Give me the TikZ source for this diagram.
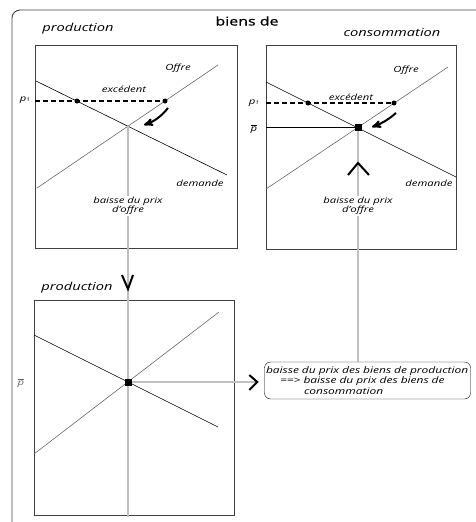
\documentclass[tikz,border=0pt]{standalone}
\usepackage{fontspec}
\setmainfont{Open Sans}[FakeStretch=1.33]
\newfontfamily\grasfont{Open Sans}[FakeStretch=1.33,FakeBold=1]
\usetikzlibrary{positioning}
\usetikzlibrary{arrows}

\begin{document}
\begin{tikzpicture}[x=1pt,y=-1pt,
    cadre/.style={draw=black!75,line width=0.9pt},%
    dem/.style={line width=0.6pt},%
    off/.style={draw=black!60,line width=0.6pt},%
    guide/.style={draw=black!25,line width=1.8pt},%
    prix/.style={line width=1.2pt,dash pattern=on 5pt off 3pt},%
    f/.style={->,line width=2pt,>=stealth'},%
    chev/.style={line width=2pt,miter limit=20},%
    pt/.style={circle,fill=black,inner sep=0pt,minimum size=5pt},%
    eq/.style={fill=black,inner sep=0pt,minimum size=7pt},%
    lab/.style={font=\fontsize{8.5}{9.5}\selectfont\itshape,inner sep=1pt},%
    titre/.style={font=\fontsize{11}{12}\selectfont\itshape,inner sep=0pt}]
    \useasboundingbox (0,0) rectangle (476,522);
    \draw[cadre,rounded corners=8pt] (12,530) |- (490,10);
    \node[font=\fontsize{12}{13}\selectfont\grasfont,inner sep=0pt] (biens) at (247,21) {biens de};
    \node[titre] (prod1) at (78,29) {production};
    \node[titre] (conso) at (392,33) {consommation};
    \node[titre] (prod2) at (77,288) {production};

    % biens de production
    \draw[cadre] (35,45) rectangle (237,248);
    \coordinate (E1) at (128,126);
    \draw[dem] (36,81) -- (227,175);
    \draw[off] (37,188) -- (218,65);
    \draw[prix] (35,101) -- (165,101);
    \node[pt] (a1) at (77,101) {};
    \node[pt] (b1) at (165,101) {};
    \node[lab] (p1a) at (25,100) {p\raisebox{0pt}{\fontsize{5}{5}\selectfont 1}};
    \node[lab] (exc1) at (124,89) {excédent};
    \node[lab] (off1) at (178,68) {Offre};
    \node[lab] (dem1) at (200,183) {demande};
    \draw[f] (168,108) to[bend left=15] (144,125);

    % biens de consommation
    \draw[cadre] (266,45) rectangle (456,249);
    \coordinate (E2) at (358,127);
    \draw[dem] (266,82) -- (456,177);
    \draw[off] (266,189) -- (448,67);
    \draw[prix] (266,103) -- (394,103);
    \draw[dem] (266,127) -- (E2);
    \node[pt] (a2) at (308,103) {};
    \node[pt] (b2) at (394,103) {};
    \node[lab] (p1b) at (254,103) {p\raisebox{0pt}{\fontsize{5}{5}\selectfont 1}};
    \node[lab] (pb2) at (254,129) {$\overline{\mbox{\itshape p}}$};
    \node[lab] (exc2) at (351,97) {excédent};
    \node[lab] (off2) at (406,70) {Offre};
    \node[lab] (dem2) at (429,183) {demande};
    \draw[f] (396,113) to[bend left=10] (372,127);

    % production (bas)
    \draw[cadre] (34,300) rectangle (234,515);
    \coordinate (E3) at (128,382);
    \draw[dem] (34,335) -- (218,427);
    \draw[off] (34,454) -- (219,312);
    \node[lab,text=black!60] (pb3) at (21,383) {$\overline{\mbox{\itshape p}}$};

    \node[draw,rounded corners=6pt,text width=203pt,minimum height=37pt,
      align=left,inner sep=1.5pt,font=\fontsize{9}{10.5}\selectfont\itshape] (msg) at (367.5,380.5)
      {\mbox{baisse du prix des biens de production}\\
       \hspace*{14pt}==> baisse du prix des biens de\\
       \hspace*{38pt}consommation};

    % liaisons
    \coordinate (fin3) at (128,517);
    \coordinate (pointe) at ([xshift=-7pt]msg.west |- E3);
    \draw[guide] (E1) -- (fin3);
    \draw[guide] (E3) -- (pointe);
    \draw[guide] (E2) -- (E2 |- msg.north);
    \node[lab,fill=white,align=center,inner sep=1pt] (bp1) at (128,206) {baisse du prix\\d'offre};
    \node[lab,fill=white,align=center,inner sep=1pt] (bp2) at (358,206) {baisse du prix\\d'offre};
    \node[eq] (q2) at (E2) {};
    \node[eq] (q3) at (E3) {};
    \draw[chev] (122,275) -- (128,289) -- (133,275);
    \draw[chev] (348,175) -- (358,163) -- (369,175);
    \draw[chev] ([shift={(-8,-7)}]pointe) -- (pointe) -- ([shift={(-8,8)}]pointe);
\end{tikzpicture}
\end{document}
